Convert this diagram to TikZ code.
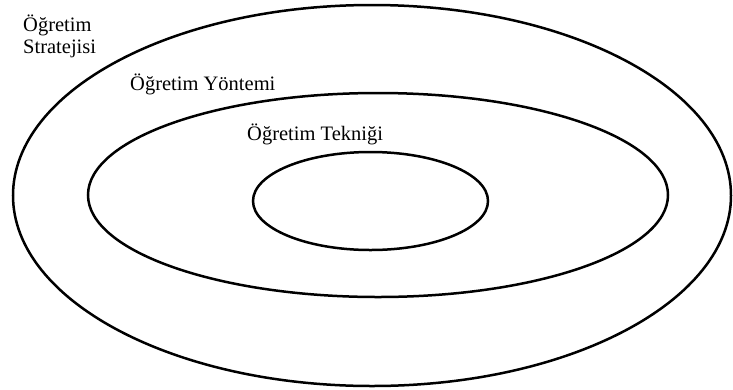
\documentclass[tikz,border=0pt]{standalone}
\usepackage{fontspec}
\setmainfont{Liberation Serif}

\begin{document}
\begin{tikzpicture}[x=1pt,y=-1pt]
        \useasboundingbox (0,0) rectangle (733,389);
        \tikzset{ring/.style={line width=2.5pt}, lbl/.style={anchor=base west, inner sep=0pt, font=\fontsize{20.5}{22}\selectfont}}
        \draw[ring] (372,195.5) ellipse [x radius=359, y radius=190.5];
        \draw[ring] (378,195) ellipse [x radius=290, y radius=102];
        \draw[ring] (370.5,201) ellipse [x radius=117.5, y radius=49];
        \node[lbl] (strateji) at (23,31.5) {Öğretim};
        \node[lbl] (strateji2) at (23,53.5) {Stratejisi};
        \node[lbl] (yontem) at (130,90.5) {Öğretim Yöntemi};
        \node[lbl] (teknik) at (247,140) {Öğretim Tekniği};
    \end{tikzpicture}
\end{document}
